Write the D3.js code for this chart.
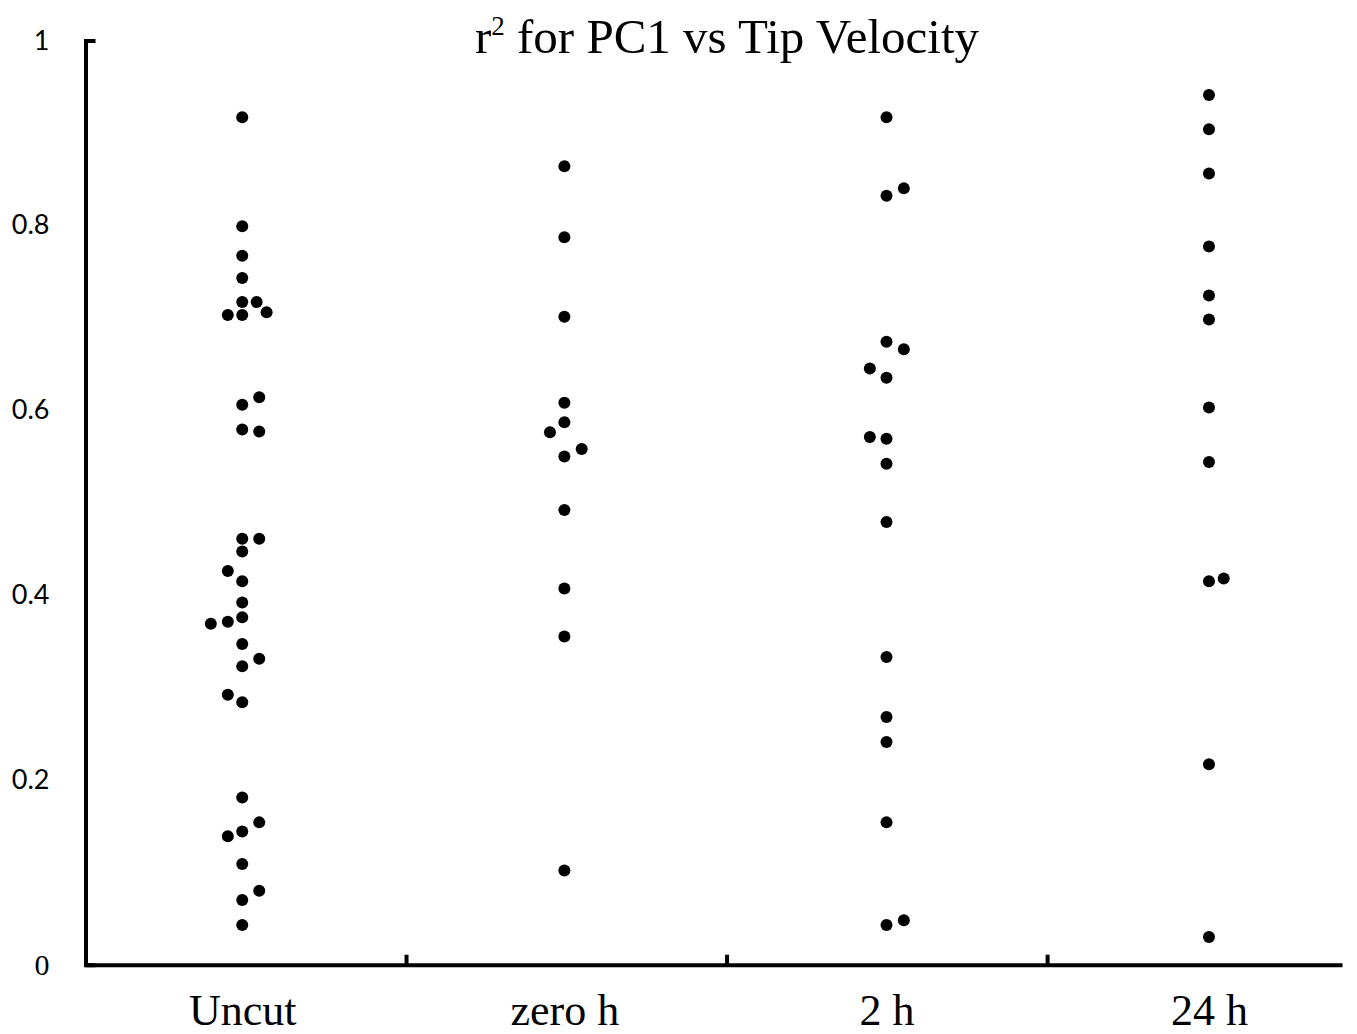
<!DOCTYPE html>
<html>
<head>
<meta charset="utf-8">
<script src="https://cdn.jsdelivr.net/npm/d3@7"></script>
<style>
  body { margin: 0; background: #fff; }
  .serif { font-family: 'Liberation Serif', 'Times New Roman', serif; }
</style>
</head>
<body>
<div id="chart"></div>
<script>
// categories and the x value each group is centred on
const categories = ['Uncut', 'zero h', '2 h', '24 h'];
const groupX = [0.989, 1.994, 2.999, 4.005];

// r^2 values per group, with the x value (jitter)
const uncutR2 = [0.917, 0.799, 0.767, 0.743, 0.717, 0.717, 0.703, 0.703, 0.706, 0.614,
  0.606, 0.579, 0.577, 0.461, 0.461, 0.447, 0.426, 0.415, 0.392, 0.376,
  0.369, 0.371, 0.347, 0.331, 0.323, 0.292, 0.284, 0.181, 0.154, 0.144,
  0.139, 0.109, 0.080, 0.070, 0.043];
const uncutX = [0.989, 0.989, 0.989, 0.989, 0.989, 1.034, 0.944, 0.989, 1.065, 1.042,
  0.989, 0.989, 1.042, 0.989, 1.042, 0.989, 0.944, 0.989, 0.989, 0.989,
  0.891, 0.944, 0.989, 1.042, 0.989, 0.944, 0.989, 0.989, 1.042, 0.989,
  0.944, 0.989, 1.042, 0.989, 0.989];

const zeroR2 = [0.864, 0.787, 0.701, 0.608, 0.587, 0.576, 0.558, 0.550, 0.492, 0.407, 0.355, 0.102];
const zeroX = [1.994, 1.994, 1.994, 1.994, 1.994, 1.949, 2.048, 1.994, 1.994, 1.994, 1.994, 1.994];

const twoR2 = [0.917, 0.840, 0.832, 0.674, 0.666, 0.645, 0.635, 0.571, 0.569, 0.542,
  0.479, 0.333, 0.268, 0.241, 0.154, 0.043, 0.048];
const twoX = [2.999, 3.053, 2.999, 2.999, 3.053, 2.947, 2.999, 2.947, 2.999, 2.999,
  2.999, 2.999, 2.999, 2.999, 2.999, 2.999, 3.053];

const dayR2 = [0.941, 0.904, 0.856, 0.777, 0.724, 0.698, 0.603, 0.544, 0.415, 0.418, 0.217, 0.030];
const dayX = [4.005, 4.005, 4.005, 4.005, 4.005, 4.005, 4.005, 4.005, 4.005, 4.051, 4.005, 4.005];

const yTicks = [0, 0.2, 0.4, 0.6, 0.8, 1];
const xTicks = [1.5, 2.5, 3.5];

let points = [];
[[uncutR2, uncutX], [zeroR2, zeroX], [twoR2, twoX], [dayR2, dayX]].forEach(function(g) {
  g[0].forEach((v, i) => points.push({x: g[1][i], r2: v}));
});

const width = 1357, height = 1034;
const svg = d3.select('#chart').append('svg')
    .attr('width', width)
    .attr('height', height);

let x = d3.scaleLinear().domain([0.5, 4.42]).range([85.5, 1342]);
let y = d3.scaleLinear().domain([0, 1]).range([964.7, 40.5]);

// y axis: no inner ticks, small cap at the top
let yAxis = svg.append('g')
    .attr('transform', 'translate(' + x(0.5) + ',0)')
    .call(d3.axisLeft(y).tickValues(yTicks).tickSizeInner(0).tickSizeOuter(-10)
        .tickPadding(36).tickFormat(d => String(d)));
yAxis.select('.domain').attr('stroke', '#000').attr('stroke-width', 4);
yAxis.selectAll('text')
    .style('font-family', 'Lato, "Open Sans", sans-serif')
    .style('font-size', '27px')
    .attr('fill', '#000');
yAxis.selectAll('.tick').filter(d => d === 0).select('text')
    .attr('class', 'serif')
    .style('font-family', null)
    .style('font-size', '30px');

// x axis line with upward ticks between groups
let xAxis = svg.append('g')
    .attr('transform', 'translate(0,' + y(0) + ')')
    .call(d3.axisBottom(x).tickValues(xTicks).tickSizeInner(-10).tickSizeOuter(0).tickFormat(''));
xAxis.select('.domain').attr('stroke', '#000').attr('stroke-width', 4);
xAxis.selectAll('.tick line').attr('stroke', '#000').attr('stroke-width', 4);

// category labels
let xLabels = svg.append('g')
    .attr('transform', 'translate(0,' + y(0) + ')')
    .call(d3.axisBottom(x).tickValues(groupX).tickSize(0).tickPadding(29)
        .tickFormat((d, i) => categories[i]));
xLabels.select('.domain').remove();
xLabels.selectAll('text')
    .attr('class', 'serif')
    .style('font-size', '44px')
    .attr('fill', '#000');
xLabels.attr('font-family', null);

// dots
svg.append('g')
    .selectAll('circle')
    .data(points)
    .enter()
    .append('circle')
    .attr('cx', d => x(d.x))
    .attr('cy', d => y(d.r2))
    .attr('r', 6)
    .attr('fill', '#000');

// title
let title = svg.append('text')
    .attr('class', 'serif')
    .attr('x', 727)
    .attr('y', 53)
    .attr('text-anchor', 'middle')
    .style('font-size', '49px')
    .attr('fill', '#000');
title.append('tspan').text('r');
title.append('tspan').attr('dy', -18).style('font-size', '27px').text('2');
title.append('tspan').attr('dy', 18).text(' for PC1 vs Tip Velocity');
</script>
</body>
</html>
